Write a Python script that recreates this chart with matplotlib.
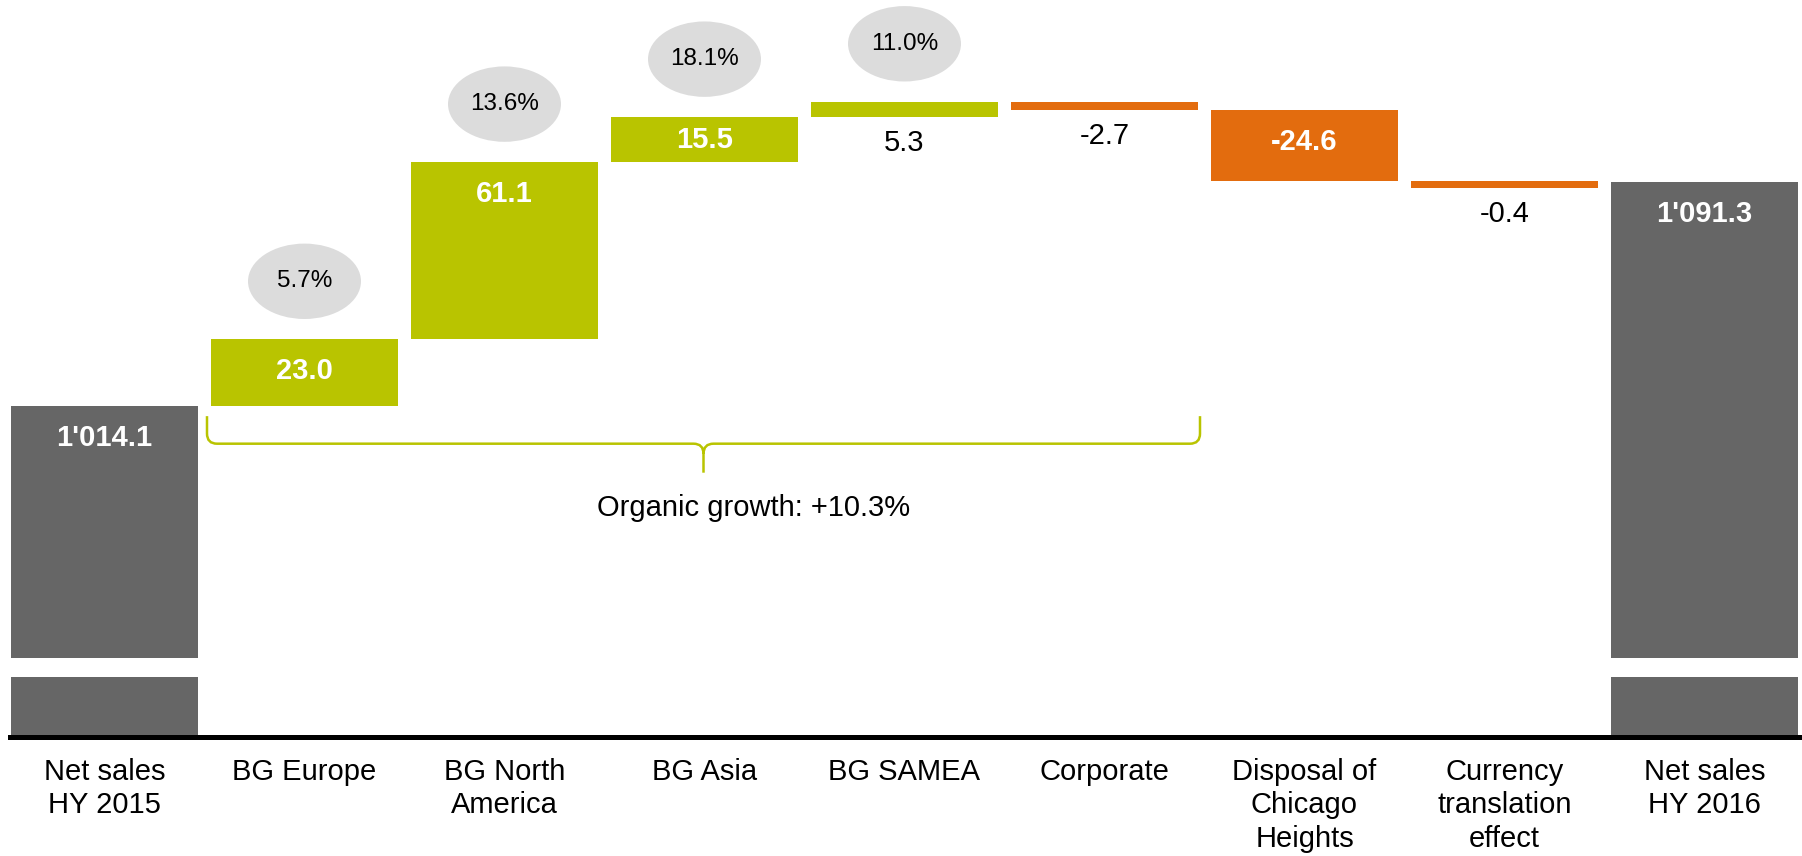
import matplotlib.pyplot as plt
from matplotlib.patches import Ellipse, PathPatch
from matplotlib.path import Path

plt.rcParams['font.family'] = ['Liberation Sans', 'DejaVu Sans']

# data
categories = ['Net sales\nHY 2015', 'BG Europe', 'BG North\nAmerica', 'BG Asia', 'BG SAMEA',
              'Corporate', 'Disposal of\nChicago\nHeights', 'Currency\ntranslation\neffect',
              'Net sales\nHY 2016']
values = [1014.1, 23.0, 61.1, 15.5, 5.3, -2.7, -24.6, -0.4, 1091.3]
is_total = [True, False, False, False, False, False, False, False, True]
value_labels = ["1'014.1", '23.0', '61.1', '15.5', '5.3', '-2.7', '-24.6', '-0.4', "1'091.3"]
growth = [None, '5.7%', '13.6%', '18.1%', '11.0%', None, None, None, None]
organic_text = 'Organic growth: +10.3%'
organic_span = (1, 5)  # bars covered by the brace

GREY = '#666666'
GREEN = '#B9C400'
ORANGE = '#E36C0E'
BUBBLE = '#DCDCDC'

W = 0.935      # bar width
MIN_H = 2.3    # thin bars still visible

# waterfall geometry
bottoms, heights, colors = [], [], []
running = 0
for v, tot in zip(values, is_total):
    if tot:
        bottoms.append(0)
        heights.append(v)
        colors.append(GREY)
        running = v
        continue
    h = max(abs(v), MIN_H)
    if v >= 0:
        bottoms.append(running)
    else:
        bottoms.append(running - h)
    heights.append(h)
    colors.append(GREEN if v >= 0 else ORANGE)
    running += v

x = list(range(len(values)))

fig = plt.figure(figsize=(18.02, 8.56), dpi=100)
ax = fig.add_axes([10 / 1802, 1 - 658 / 856, 1792 / 1802, 658 / 856])
axb = fig.add_axes([10 / 1802, 1 - 737 / 856, 1792 / 1802, 60 / 856])

xlim = (-0.4725, 8.4875)
for a in (ax, axb):
    a.bar(x, heights, bottom=bottoms, width=W, color=colors, linewidth=0)
    a.set_xlim(*xlim)
    for s in a.spines.values():
        s.set_visible(False)
    a.tick_params(left=False, labelleft=False)

ax.set_ylim(927.2, 1154.1)
ax.set_xticks([])
axb.set_ylim(0, 20.7)
axb.axhline(0, color='black', lw=3.6, clip_on=False)
axb.set_xticks(x)
axb.set_xticklabels(categories, fontsize=21)
axb.tick_params(axis='x', length=0, pad=15)
for lbl in axb.get_xticklabels():
    lbl.set_linespacing(1.25)

# value labels
for i in x:
    top = bottoms[i] + heights[i]
    bot = bottoms[i]
    if heights[i] >= 10:
        y = max(top - 11, (top + bot) / 2)
        ax.text(i, y, value_labels[i], ha='center', va='center', fontsize=21,
                color='white', fontweight='bold')
    else:
        ax.text(i, bot - 9, value_labels[i], ha='center', va='center', fontsize=21,
                color='black')

# growth bubbles
for i in x:
    if growth[i] is None:
        continue
    top = bottoms[i] + heights[i]
    ax.add_patch(Ellipse((i, top + 20), 0.565, 26, color=BUBBLE, lw=0))
    ax.text(i, top + 20, growth[i], ha='center', va='center', fontsize=17.5, color='black')

# brace for organic growth
x0 = organic_span[0] - W / 2 - 0.02
x1 = organic_span[1] + W / 2 + 0.01
xc = (x0 + x1) / 2
y_top = values[0] - 3.5
y_mid = values[0] - 13.0
y_tip = values[0] - 23.0
rx, ry = 0.05, 3.5
verts = [(x0, y_top), (x0, y_mid + ry), (x0, y_mid), (x0 + rx, y_mid),
         (xc - rx, y_mid), (xc, y_mid), (xc, y_mid - ry), (xc, y_tip),
         (xc, y_mid - ry), (xc, y_mid), (xc + rx, y_mid),
         (x1 - rx, y_mid), (x1, y_mid), (x1, y_mid + ry), (x1, y_top)]
codes = [Path.MOVETO, Path.LINETO, Path.CURVE3, Path.CURVE3,
         Path.LINETO, Path.CURVE3, Path.CURVE3, Path.LINETO,
         Path.MOVETO, Path.CURVE3, Path.CURVE3,
         Path.LINETO, Path.CURVE3, Path.CURVE3, Path.LINETO]
ax.add_patch(PathPatch(Path(verts, codes), fill=False, edgecolor=GREEN, lw=1.8))
ax.text(xc + 0.25, values[0] - 35.3, organic_text, ha='center', va='center', fontsize=21)

fig.savefig('out.png', dpi=100)
